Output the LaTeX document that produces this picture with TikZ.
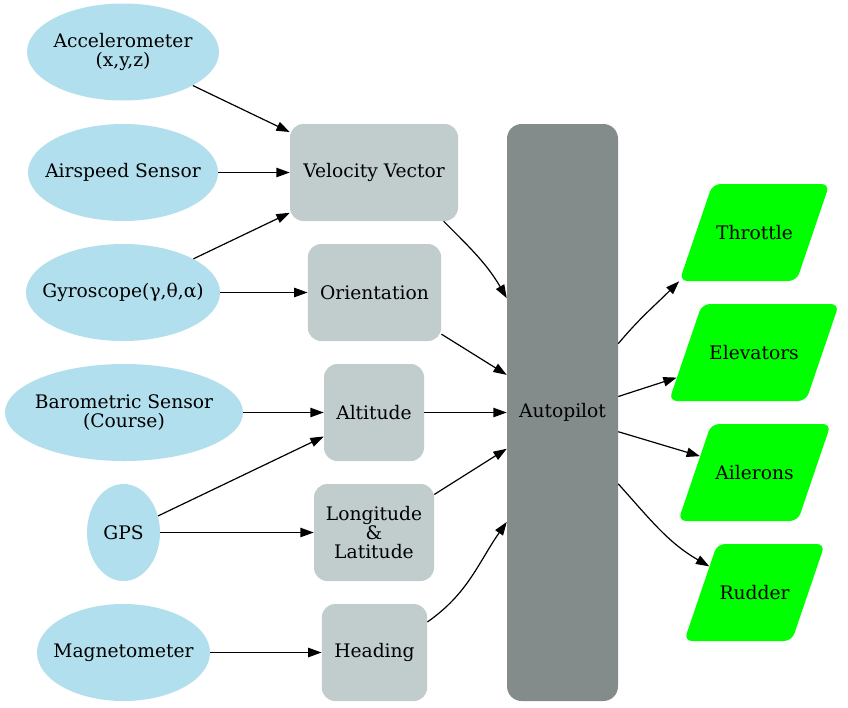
\documentclass[tikz,border=0pt]{standalone}
\usepackage{fontspec}
\setmainfont{DejaVu Serif}
\usepackage{tikz}
\usetikzlibrary{shapes.geometric,arrows.meta}

\definecolor{sensorblue}{HTML}{B2DFEE}
\definecolor{procgray}{HTML}{C1CDCD}
\definecolor{pilotgray}{HTML}{838B8B}
\definecolor{actgreen}{HTML}{00FF00}
\newcommand{\zbox}[1]{\makebox[0pt]{#1}} % 文字不撑大椭圆

\begin{document}
\begin{tikzpicture}[x=0.75pt, y=-0.75pt,
    font=\fontsize{14}{14.6}\selectfont,
    sensor/.style={ellipse, fill=sensorblue, minimum height=72.75pt, inner sep=0pt, align=center},
    proc/.style={rectangle, rounded corners=10pt, fill=procgray, minimum height=72.75pt, inner sep=0pt, align=center},
    act/.style={trapezium, trapezium left angle=71.2, trapezium right angle=108.8,
      rounded corners=6pt, fill=actgreen, text height=10.5pt, text depth=0pt,
      inner xsep=0pt, inner ysep=31.125pt, align=center},
    link/.style={-{Triangle[length=10pt,width=7pt]}, line width=0.9pt}]

    \useasboundingbox (0,0) rectangle (848,707); % 画布大小

    % 传感器
    \node[sensor, minimum width=144pt]    (acc)  at (123,52)  {\zbox{Accelerometer}\\\zbox{(x,y,z)}};
    \node[sensor, minimum width=142.5pt]  (air)  at (123,172.5) {\zbox{Airspeed Sensor}};
    \node[sensor, minimum width=145.5pt]  (gyro) at (123,292.5) {\zbox{Gyroscope(γ,θ,α)}};
    \node[sensor, minimum width=178.5pt]  (baro) at (124,412.5) {\zbox{Barometric Sensor}\\\zbox{(Course)}};
    \node[sensor, minimum width=54.75pt]  (gps)  at (123.5,532.5) {\zbox{GPS}};
    \node[sensor, minimum width=129.75pt] (mag)  at (123.5,652.5) {\zbox{Magnetometer}};

    % 中间量
    \node[proc, minimum width=126pt] (vel)    at (374,172.5) {Velocity Vector};
    \node[proc, minimum width=100pt] (orient) at (374.5,292.5) {Orientation};
    \node[proc, minimum width=75pt]  (alt)    at (374,412.5) {Altitude};
    \node[proc, minimum width=90pt]  (lonlat) at (374,532.5) {Longitude\\\&\\Latitude};
    \node[proc, minimum width=79pt]  (head)   at (374.5,652.5) {Heading};

    \node[proc, fill=pilotgray, rounded corners=11pt, minimum width=83.25pt, minimum height=432.75pt]
      (pilot) at (562.5,412.5) {Autopilot};

    % 执行机构
    \node[act, text width=63pt] (thr)  at (754.5,232.5) {Throttle};
    \node[act, text width=78pt] (elev) at (754,352.5)   {Elevators};
    \node[act, text width=65pt] (ail)  at (754.5,472.5) {Ailerons};
    \node[act, text width=56pt] (rud)  at (754.5,592.5) {Rudder};

    \draw[link] (acc) -- (vel);
    \draw[link] (air) -- (vel);
    \draw[link] (gyro) -- (vel);
    \draw[link] (gyro) -- (orient);
    \draw[link] (baro) -- (alt);
    \draw[link] (gps) -- (alt);
    \draw[link] (gps) -- (lonlat);
    \draw[link] (mag) -- (head);

    \draw[link] (vel.-35) to[out=-45, in=120] (pilot.116.7);
    \draw[link] (orient) -- (pilot.146.7);
    \draw[link] (alt) -- (pilot);
    \draw[link] (lonlat) -- (pilot.213.3);
    \draw[link] (head.30) to[out=35, in=235] (pilot.243.1);

    \draw[link] (pilot.51) to[out=50, in=225] (thr.bottom left corner);
    \draw[link] (pilot.16.6) -- (elev);
    \draw[link] (pilot.341.6) -- (ail);
    \draw[link] (pilot.308.6) to[out=-48, in=150] (rud);

\end{tikzpicture}
\end{document}
